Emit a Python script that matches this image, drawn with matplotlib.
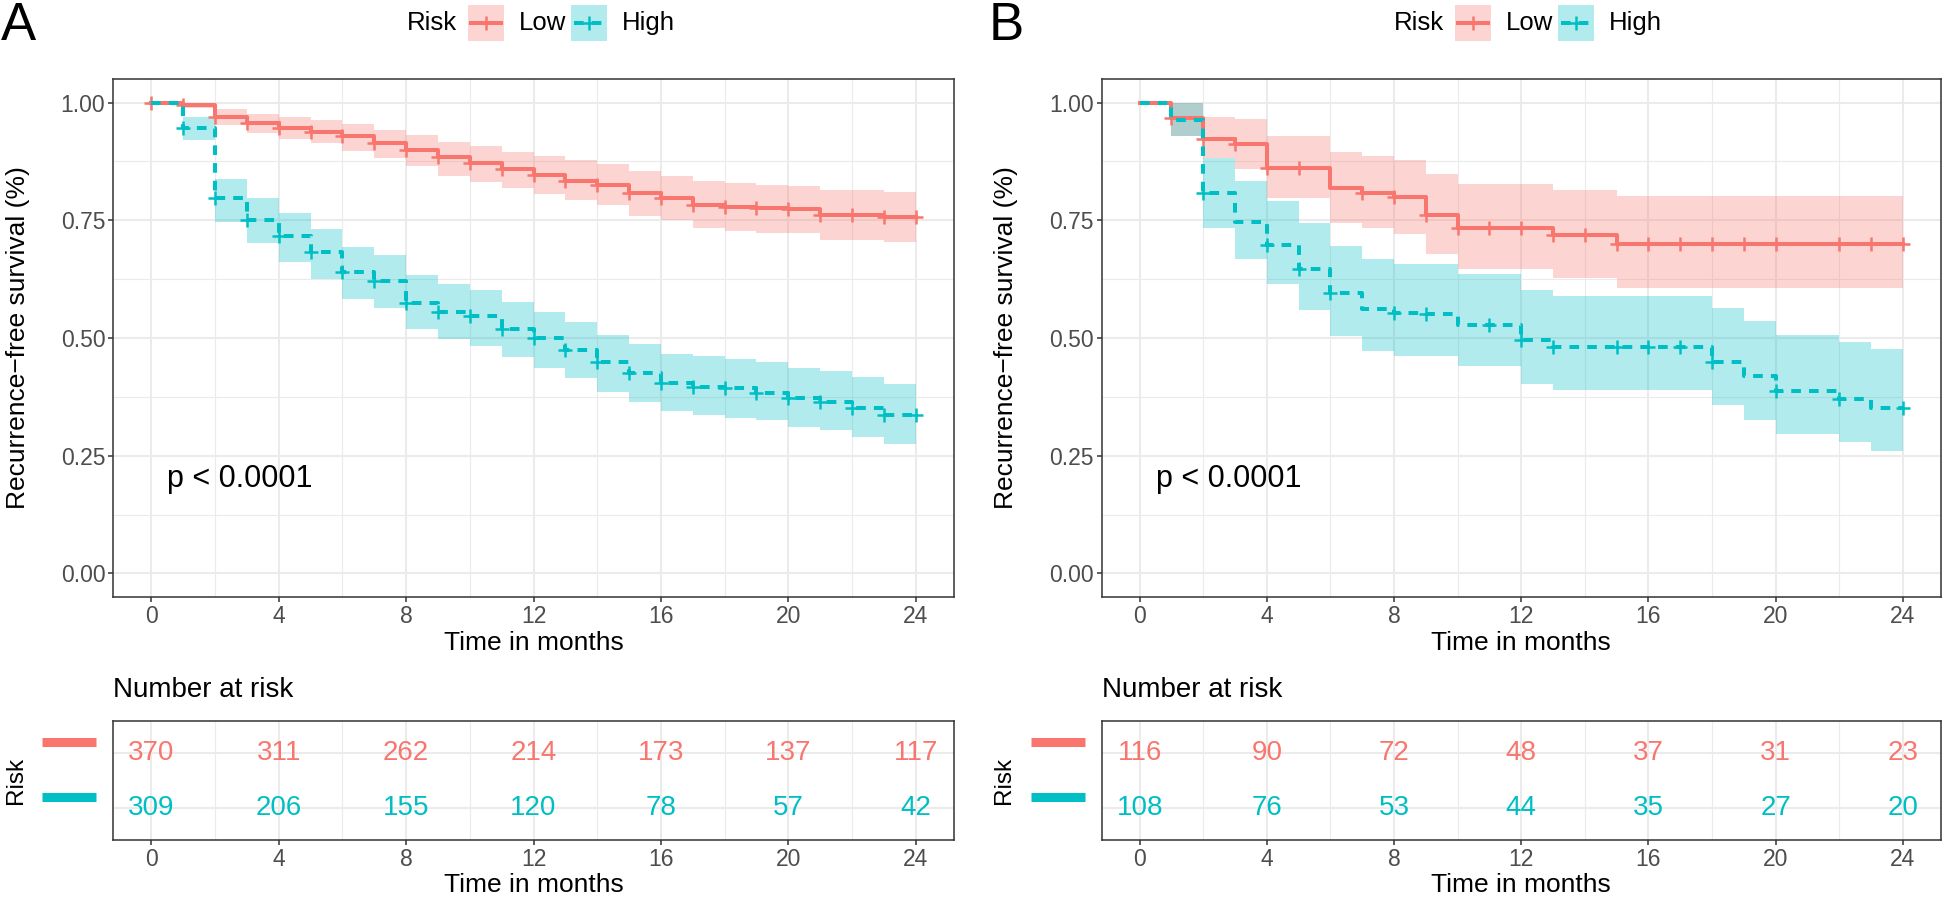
import numpy as np
import matplotlib
matplotlib.use("Agg")
import matplotlib.pyplot as plt
from matplotlib.lines import Line2D
from matplotlib.patches import Rectangle

plt.rcParams['font.family'] = ['Liberation Sans', 'DejaVu Sans']

RED = "#F8766D"
TEAL = "#00BFC4"

months = np.arange(0, 25)

# Panel A: step values for each month (value held on [t, t+1))
a_low_s = [1.0, 0.995, 0.970, 0.956, 0.946, 0.938, 0.928, 0.914, 0.900, 0.884, 0.871, 0.858, 0.847,
           0.834, 0.825, 0.808, 0.797, 0.783, 0.779, 0.776, 0.774, 0.762, 0.762, 0.758, 0.758]
a_low_hi = [1.0, 1.0, 0.986, 0.976, 0.969, 0.963, 0.954, 0.942, 0.931, 0.917, 0.907, 0.895, 0.887,
            0.877, 0.870, 0.854, 0.844, 0.834, 0.829, 0.824, 0.823, 0.815, 0.815, 0.810, 0.810]
a_low_lo = [1.0, 0.988, 0.953, 0.935, 0.922, 0.914, 0.898, 0.882, 0.866, 0.845, 0.832, 0.818, 0.806,
            0.792, 0.782, 0.760, 0.750, 0.733, 0.728, 0.723, 0.723, 0.709, 0.709, 0.703, 0.703]
a_high_s = [1.0, 0.946, 0.797, 0.750, 0.716, 0.682, 0.641, 0.620, 0.575, 0.556, 0.546, 0.519, 0.500,
            0.475, 0.448, 0.425, 0.404, 0.397, 0.394, 0.384, 0.372, 0.365, 0.351, 0.337, 0.337]
a_high_hi = [1.0, 0.970, 0.837, 0.798, 0.765, 0.731, 0.694, 0.677, 0.634, 0.614, 0.602, 0.577, 0.556,
             0.535, 0.507, 0.488, 0.466, 0.462, 0.456, 0.449, 0.437, 0.430, 0.418, 0.403, 0.403]
a_high_lo = [1.0, 0.921, 0.747, 0.701, 0.662, 0.625, 0.583, 0.563, 0.519, 0.498, 0.483, 0.459, 0.436,
             0.415, 0.385, 0.365, 0.344, 0.337, 0.331, 0.325, 0.311, 0.304, 0.289, 0.275, 0.275]
a_low_cens = list(range(0, 25))
a_high_cens = list(range(1, 25))

# Panel B
b_low_s = [1.0, 0.967, 0.923, 0.912, 0.861, 0.861, 0.818, 0.808, 0.800, 0.762, 0.733, 0.733, 0.733,
           0.718, 0.718, 0.700, 0.700, 0.700, 0.700, 0.700, 0.700, 0.700, 0.700, 0.700, 0.700]
b_low_hi = [1.0, 1.0, 0.970, 0.965, 0.928, 0.928, 0.895, 0.887, 0.877, 0.848, 0.827, 0.827, 0.827,
            0.815, 0.815, 0.802, 0.802, 0.802, 0.802, 0.802, 0.802, 0.802, 0.802, 0.802, 0.802]
b_low_lo = [1.0, 0.929, 0.882, 0.859, 0.797, 0.797, 0.745, 0.733, 0.720, 0.678, 0.646, 0.646, 0.646,
            0.627, 0.627, 0.606, 0.606, 0.606, 0.606, 0.606, 0.606, 0.606, 0.606, 0.606, 0.606]
b_high_s = [1.0, 0.963, 0.808, 0.746, 0.698, 0.646, 0.595, 0.561, 0.553, 0.551, 0.528, 0.528, 0.496,
            0.480, 0.480, 0.480, 0.480, 0.480, 0.450, 0.420, 0.388, 0.388, 0.370, 0.352, 0.352]
b_high_hi = [1.0, 1.0, 0.882, 0.834, 0.790, 0.745, 0.696, 0.667, 0.657, 0.657, 0.636, 0.636, 0.602,
             0.590, 0.590, 0.590, 0.590, 0.590, 0.563, 0.537, 0.507, 0.507, 0.491, 0.476, 0.476]
b_high_lo = [1.0, 0.929, 0.733, 0.667, 0.614, 0.560, 0.505, 0.473, 0.462, 0.462, 0.440, 0.440, 0.403,
             0.389, 0.389, 0.389, 0.389, 0.389, 0.358, 0.326, 0.296, 0.296, 0.279, 0.261, 0.261]
b_low_cens = [1, 2, 3, 4, 5, 7, 8, 9, 10, 11, 12, 13, 14, 15, 16, 17, 18, 19, 20, 22, 23, 24]
b_high_cens = [2, 4, 5, 6, 8, 9, 11, 12, 13, 15, 16, 17, 18, 20, 22, 24]

risk_times = [0, 4, 8, 12, 16, 20, 24]
a_risk_low = [370, 311, 262, 214, 173, 137, 117]
a_risk_high = [309, 206, 155, 120, 78, 57, 42]
b_risk_low = [116, 90, 72, 48, 37, 31, 23]
b_risk_high = [108, 76, 53, 44, 35, 27, 20]

W, H = 1946, 898
fig = plt.figure(figsize=(W / 100, H / 100), dpi=100)

LW = 2.9
DASH = (0, (2.4, 2.0))


def px_axes(l, t, r, b):
    return fig.add_axes([l / W, 1 - b / H, (r - l) / W, (b - t) / H])


def ftext(x, y, s, **kw):
    fig.text(x / W, 1 - y / H, s, **kw)


def style_axes(ax):
    ax.set_xlim(-1.2, 25.2)
    ax.set_xticks(range(0, 25, 4))
    ax.set_xticks(range(2, 25, 4), minor=True)
    ax.grid(which='major', color='#EBEBEB', lw=1.5)
    ax.grid(which='minor', color='#EBEBEB', lw=0.8)
    ax.set_axisbelow(True)
    for sp in ax.spines.values():
        sp.set_color('#333333')
        sp.set_linewidth(1.1)
    ax.tick_params(which='major', length=3.5, width=1.1, color='#333333',
                   labelsize=16.5, labelcolor='#4D4D4D', pad=2)
    ax.tick_params(which='minor', length=0)


def draw_curve(ax, s, lo, hi, cens, color, ls):
    ax.fill_between(months, lo, hi, step='post', color=color, alpha=0.3, lw=0)
    ax.step(months, s, where='post', color=color, lw=LW, linestyle=ls)
    idx = np.searchsorted(months, cens, side='right') - 1
    ax.plot(cens, np.asarray(s)[idx], '+', color=color, ms=10.5, mew=1.8, linestyle='none')


def draw_panel(dx, letter, low, high, risk_low, risk_high):
    left, right = 113 + dx, 954 + dx
    if dx:
        right = 1941
    ax = px_axes(left, 79, right, 597)
    style_axes(ax)
    ax.set_ylim(-0.05, 1.05)
    ax.set_yticks([0, 0.25, 0.5, 0.75, 1.0])
    ax.set_yticks([0.125, 0.375, 0.625, 0.875], minor=True)
    ax.set_yticklabels(["0.00", "0.25", "0.50", "0.75", "1.00"])
    draw_curve(ax, *low, RED, '-')
    draw_curve(ax, *high, TEAL, DASH)
    ax.text(0.5, 0.2, "p < 0.0001", fontsize=22, ha='left', va='center')

    cx = (left + right) / 2
    ftext(cx, 643, "Time in months", fontsize=19, ha='center', va='center')
    ftext(18 + dx, 338, "Recurrence\u2212free survival (%)", fontsize=19, rotation=90,
          ha='center', va='center')
    ftext(18 + dx, 26, letter, fontsize=38, ha='center', va='center')

    # legend
    lx = cx + 6 - 133
    ftext(lx, 23, "Risk", fontsize=18.5, ha='left', va='center')
    for kx, tx, col, ls, lab in [(lx + 61, lx + 112, RED, '-', "Low"),
                                 (lx + 164, lx + 215, TEAL, DASH, "High")]:
        fig.add_artist(Rectangle((kx / W, 1 - 41 / H), 36 / W, 36 / H,
                                 transform=fig.transFigure, color=col, alpha=0.3, lw=0))
        fig.add_artist(Line2D([(kx + 3) / W, (kx + 33) / W], [1 - 23 / H, 1 - 23 / H],
                              transform=fig.transFigure, color=col, lw=LW, linestyle=ls))
        fig.add_artist(Line2D([(kx + 18) / W], [1 - 23 / H], transform=fig.transFigure,
                              color=col, marker='+', ms=10.5, mew=1.8, linestyle='none'))
        ftext(tx, 23, lab, fontsize=18.5, ha='left', va='center')

    # risk table
    rt = px_axes(left, 721, right, 840)
    style_axes(rt)
    rt.set_ylim(0.4, 2.6)
    rt.set_yticks([1, 2])
    rt.set_yticklabels([])
    rt.tick_params(axis='y', length=0)
    for t, n in zip(risk_times, risk_low):
        rt.text(t, 2, str(n), color=RED, fontsize=20, ha='center', va='center')
    for t, n in zip(risk_times, risk_high):
        rt.text(t, 1, str(n), color=TEAL, fontsize=20, ha='center', va='center')
    ftext(left, 690, "Number at risk", fontsize=20, ha='left', va='center')
    ftext(cx, 885, "Time in months", fontsize=19, ha='center', va='center')
    ftext(16 + dx, 780, "Risk", fontsize=17.5, rotation=90, ha='center', va='center')
    for yy, col in [(742, RED), (797, TEAL)]:
        fig.add_artist(Line2D([(42 + dx) / W, (96 + dx) / W], [1 - yy / H, 1 - yy / H],
                              transform=fig.transFigure, color=col, lw=6.5,
                              solid_capstyle='butt'))


draw_panel(0, "A", (a_low_s, a_low_lo, a_low_hi, a_low_cens),
           (a_high_s, a_high_lo, a_high_hi, a_high_cens), a_risk_low, a_risk_high)
draw_panel(988.5, "B", (b_low_s, b_low_lo, b_low_hi, b_low_cens),
           (b_high_s, b_high_lo, b_high_hi, b_high_cens), b_risk_low, b_risk_high)

fig.savefig("out.png", dpi=100)
